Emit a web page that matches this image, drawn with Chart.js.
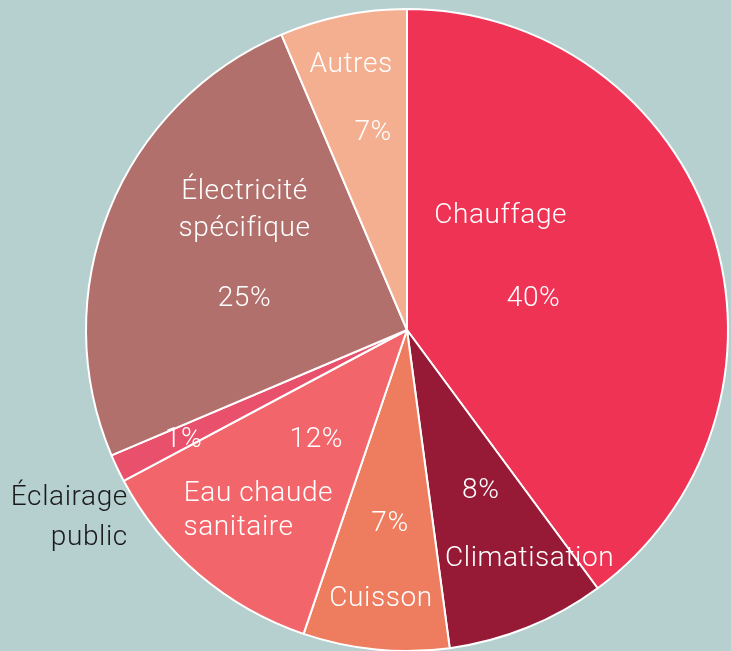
<!DOCTYPE html>
<html>
<head>
<meta charset="utf-8">
<script src="https://cdn.jsdelivr.net/npm/chart.js@4.4.1/dist/chart.umd.min.js"></script>
<style>
  html, body { margin: 0; padding: 0; background: #b6cfcf; }
  #wrap { width: 731px; height: 651px; overflow: hidden; position: relative; }
  canvas { display: block; }
</style>
</head>
<body>
<div id="wrap"><canvas id="pie" width="731" height="660"></canvas></div>
<script>
  const categories = ['Chauffage', 'Climatisation', 'Cuisson', 'Eau chaude sanitaire', 'Éclairage public', 'Électricité spécifique', 'Autres'];
  const shares = [39.9, 8.0, 7.35, 12.0, 1.4, 25.0, 6.4];
  const shareLabels = ['40%', '8%', '7%', '12%', '1%', '25%', '7%'];
  const sliceColors = ['#ef3355', '#961a36', '#ee7c5f', '#f2666b', '#e9506b', '#b2706d', '#f4ae90'];

  // text placement: offsets from the pie centre, in px for a radius of 322
  const labelLayout = [
    [{ t: 'Chauffage', dx: 94, dy: -114 }, { t: '%', dx: 127, dy: -31 }],
    [{ t: '%', dx: 74, dy: 162 }, { t: 'Climatisation', dx: 123, dy: 230 }],
    [{ t: '%', dx: -17, dy: 195 }, { t: 'Cuisson', dx: -26, dy: 270 }],
    [{ t: '%', dx: -91, dy: 110 }, { t: 'Eau chaude', dx: -149, dy: 165 }, { t: 'sanitaire', dx: -169, dy: 199 }],
    [{ t: '%', dx: -224, dy: 110 },
     { t: 'Éclairage', dx: -280, dy: 169, align: 'right', color: '#1a1a1a' },
     { t: 'public', dx: -280, dy: 209, align: 'right', color: '#1a1a1a' }],
    [{ t: 'Électricité', dx: -163, dy: -138 }, { t: 'spécifique', dx: -163, dy: -101 }, { t: '%', dx: -163, dy: -31 }],
    [{ t: 'Autres', dx: -56, dy: -266 }, { t: '%', dx: -34, dy: -198 }]
  ];

  const sliceText = {
    id: 'sliceText',
    afterDatasetsDraw(chart) {
      const ctx = chart.ctx;
      const arcs = chart.getDatasetMeta(0).data;
      ctx.save();
      ctx.font = '300 28px Roboto, "Open Sans", sans-serif';
      ctx.letterSpacing = '0.6px';
      ctx.textBaseline = 'middle';
      arcs.forEach((arc, i) => {
        const k = arc.outerRadius / 322;
        labelLayout[i].forEach(item => {
          const text = item.t === '%' ? shareLabels[i] : item.t;
          ctx.fillStyle = item.color || '#ffffff';
          ctx.textAlign = item.align || 'center';
          ctx.fillText(text, arc.x + item.dx * k, arc.y + item.dy * k);
        });
      });
      ctx.restore();
    }
  };

  new Chart(document.getElementById('pie').getContext('2d'), {
    type: 'pie',
    data: {
      labels: categories,
      datasets: [{
        data: shares,
        backgroundColor: sliceColors,
        borderColor: '#ffffff',
        borderWidth: 2
      }]
    },
    options: {
      responsive: false,
      animation: false,
      layout: { padding: { top: 8, left: 85, right: 2, bottom: 8 } },
      plugins: {
        legend: { display: false },
        tooltip: { enabled: false }
      }
    },
    plugins: [sliceText]
  });
</script>
</body>
</html>
